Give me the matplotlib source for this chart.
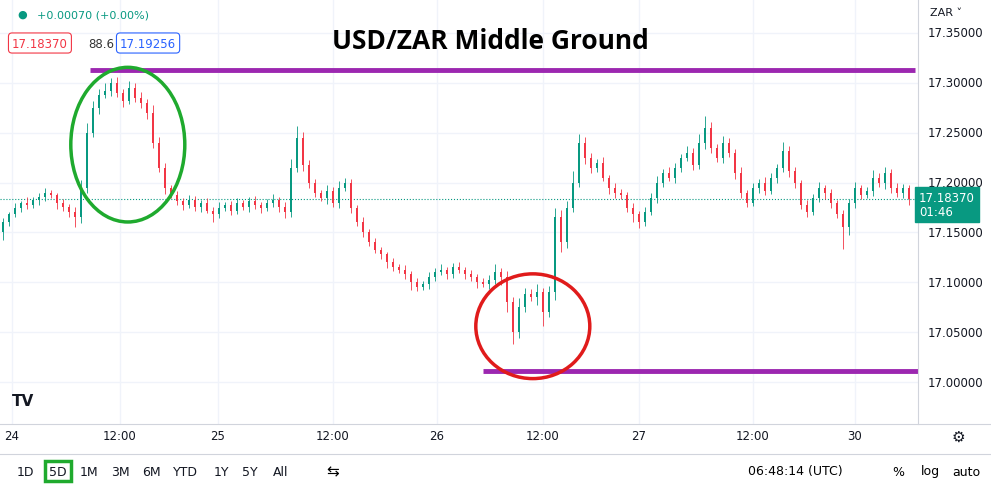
import matplotlib.pyplot as plt
from matplotlib.patches import Ellipse, Rectangle

# closes in thousandths above 17.000
closes = [160,168,175,180,178,183,186,190,188,180,176,170,165,195,250,275,288,292,300,290,
          282,295,285,280,270,240,215,195,188,182,178,183,176,180,172,168,175,178,172,180,
          176,182,178,175,180,183,176,170,215,245,218,200,190,185,192,180,195,200,175,160,
          150,140,132,128,120,115,112,108,100,95,98,105,110,112,108,115,112,108,105,100,
          98,102,110,105,80,50,75,88,85,90,70,90,165,140,175,200,240,225,215,220,
          205,195,190,188,175,168,160,170,185,200,210,205,215,225,230,218,240,255,235,225,
          240,230,210,190,180,195,200,192,205,215,232,212,200,178,170,185,195,190,180,168,
          155,180,195,188,192,205,200,210,195,190,195,184]
first_open = 150
wick_up = [4,3,5,2,6,3,4,5,3,2,4,3,6,8,10,7,6,8,5,6,4,7,5,6,4,8,6,5,3,4,3,5,4,3,5,4,6,3,4,5,
           3,4,5,3,4,6,3,5,9,12,6,5,4,3,6,4,7,5,4,3,5,3,4,3,2,4,3,5,3,4,3,5,4,6,3,4,5,3,4,3,
           4,5,8,4,6,5,9,6,5,8,4,6,10,8,7,12,9,6,5,4,6,3,5,4,3,5,4,6,5,7,4,6,5,4,7,5,9,12,6,4,
           7,5,4,6,3,5,4,6,5,4,9,5,4,3,5,4,6,3,4,3,5,4,6,3,4,8,5,6,4,5,4,3]
wick_dn = [8,4,3,5,4,3,5,4,3,6,4,5,10,6,5,4,6,3,5,4,6,3,4,5,6,5,4,6,3,4,5,3,4,5,3,8,4,3,5,4,
           3,5,4,6,3,4,5,6,5,4,6,5,4,3,6,4,5,3,6,4,5,4,3,5,6,4,3,5,8,4,3,5,4,3,5,4,3,5,4,6,
           3,5,4,8,10,12,6,5,4,8,14,5,8,10,6,5,4,6,5,4,3,6,5,4,5,8,6,4,3,5,4,3,5,4,3,5,4,6,5,4,
           5,4,6,5,4,3,5,4,3,5,4,6,5,4,5,3,4,6,5,4,22,8,5,4,3,5,4,6,5,4,5,6]

last_price = 17.18370
top_line = 17.313
bot_line = 17.011
yticks = [17.00, 17.05, 17.10, 17.15, 17.20, 17.25, 17.30, 17.35]
xtick_pos = [1.5, 19.5, 35.8, 55, 72.3, 90, 106, 125, 142]
xtick_lab = ['24', '12:00', '25', '12:00', '26', '12:00', '27', '12:00', '30']

UP, DN = '#089981', '#f23645'

fig = plt.figure(figsize=(9.91, 4.89), dpi=100)
ax = fig.add_axes([0, 64/489, 918/991, 425/489])
ax.set_xlim(-0.5, 152.5)
ax.set_ylim(16.958, 17.384)

opens = [first_open] + closes[:-1]
for i, (o, c) in enumerate(zip(opens, closes)):
    o, c = 17 + o/1000, 17 + c/1000
    col = UP if c >= o else DN
    hi = max(o, c) + wick_up[i]/1000
    lo = min(o, c) - wick_dn[i]/1000
    ax.vlines(i, lo, hi, color=col, lw=0.6, zorder=3)
    ax.add_patch(Rectangle((i-0.2, min(o, c)), 0.4, max(abs(c-o), 0.0005),
                           color=col, zorder=4, lw=0))

for y in yticks:
    ax.axhline(y, color='#f0f3fa', lw=1, zorder=0)
for x in xtick_pos:
    ax.axvline(x, color='#f0f3fa', lw=1, zorder=0)
ax.axhline(last_price, color=UP, lw=0.8, ls=':', zorder=1)

ax.hlines(top_line, 14.5, 152, color='#9c27b0', lw=3.5, zorder=5)
ax.hlines(bot_line, 80, 152.5, color='#9c27b0', lw=3.5, zorder=5)
ax.add_patch(Ellipse((20.8, 17.238), 19, 0.155, fill=False, ec='#1faa2e', lw=2.5, zorder=6))
ax.add_patch(Ellipse((88.3, 17.056), 19, 0.105, fill=False, ec='#e01b1b', lw=2.5, zorder=6))

ax.set_xticks([]); ax.set_yticks([])
for s in ax.spines.values():
    s.set_visible(False)

fig.text(490/991, 1-42/489, 'USD/ZAR Middle Ground', fontsize=19, fontweight='bold',
         family='Open Sans', ha='center', va='center')
fig.text(37/991, 1-15/489, '+0.00070 (+0.00%)', fontsize=8, color=UP, va='center')
fig.text(22/991, 1-15/489, '●', fontsize=8, color=UP, va='center', ha='center')
fig.text(12/991, 1-44/489, '17.18370', fontsize=8.5, color=DN, va='center',
         bbox=dict(boxstyle='round,pad=0.3', fc='white', ec=DN, lw=0.8))
fig.text(88/991, 1-44/489, '88.6', fontsize=8.5, color='#333', va='center')
fig.text(120/991, 1-44/489, '17.19256', fontsize=8.5, color='#2962ff', va='center',
         bbox=dict(boxstyle='round,pad=0.3', fc='white', ec='#2962ff', lw=0.8))
fig.text(12/991, 1-402/489, 'TV', fontsize=11, fontweight='bold', color='#131722', va='center')

# right price axis
ylim = ax.get_ylim()
def ypix(p):
    return (64 + (p - ylim[0]) / (ylim[1] - ylim[0]) * 425) / 489
for y in yticks:
    fig.text(928/991, ypix(y), f'{y:.5f}', fontsize=8.5, color='#131722', va='center')
fig.text(930/991, 1-13/489, 'ZAR ˅', fontsize=8, color='#131722', va='center')
fig.text(919/991, ypix(last_price) - 0.012, '17.18370\n01:46', fontsize=8.5, color='white',
         va='center', linespacing=1.1,
         bbox=dict(boxstyle='square,pad=0.35', fc=UP, ec=UP))

# x labels
for x, lab in zip(xtick_pos, xtick_lab):
    px = (x + 0.5) / 153 * 918
    fig.text(px/991, 1-437/489, lab, fontsize=8.5, color='#131722', ha='center', va='center')
fig.text(958/991, 1-437/489, '⚙', fontsize=11, ha='center', va='center', color='#131722')

# separators
fig.add_artist(plt.Line2D([918/991]*2, [64/489, 1], color='#d1d4dc', lw=0.8))
fig.add_artist(plt.Line2D([0, 1], [64/489]*2, color='#d1d4dc', lw=0.8))
fig.add_artist(plt.Line2D([0, 1], [34/489]*2, color='#d1d4dc', lw=0.8))

# toolbar
tools = ['1D', '5D', '1M', '3M', '6M', 'YTD', '1Y', '5Y', 'All']
tx = [25, 58, 89, 120, 151, 185, 221, 250, 281]
for t, x in zip(tools, tx):
    kw = {}
    if t == '5D':
        kw = dict(bbox=dict(boxstyle='square,pad=0.3', fc='white', ec='#1faa2e', lw=2.5))
    fig.text(x/991, 1-472/489, t, fontsize=9, color='#131722', ha='center', va='center', **kw)
fig.text(333/991, 1-472/489, '⇆', fontsize=11, ha='center', va='center')
fig.text(795/991, 1-472/489, '06:48:14 (UTC)', fontsize=9, ha='center', va='center')
fig.text(898/991, 1-472/489, '%', fontsize=9, ha='center', va='center')
fig.text(930/991, 1-472/489, 'log', fontsize=9, ha='center', va='center')
fig.text(966/991, 1-472/489, 'auto', fontsize=9, ha='center', va='center')

fig.savefig('out.png', dpi=100)
